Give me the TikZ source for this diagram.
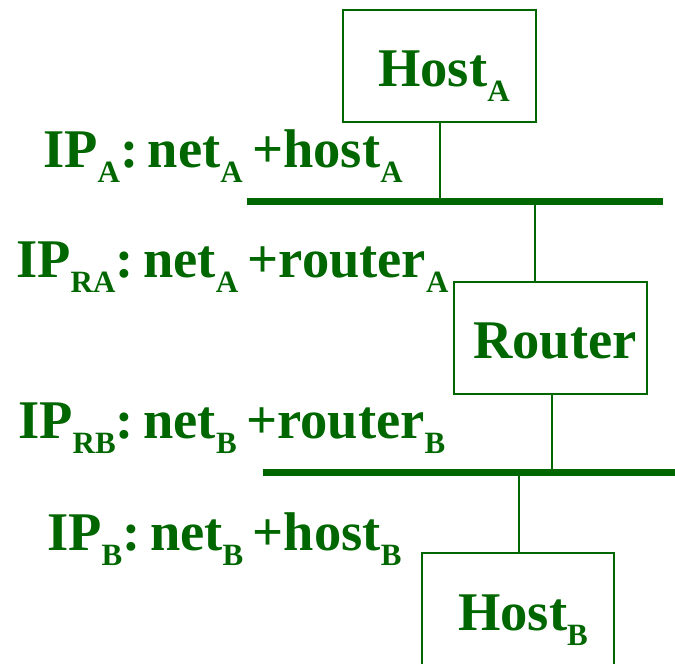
\documentclass[tikz,border=0pt]{standalone}
\usepackage{fontspec}
\setmainfont[WordSpace=0.7]{Liberation Serif}
\frenchspacing
\definecolor{netgreen}{RGB}{0,102,0}
% lowered subscript in a smaller bold face
\newcommand{\lsub}[1]{\raisebox{-15pt}{\fontsize{31}{31}\selectfont #1}}
\begin{document}
\begin{tikzpicture}[x=1pt,y=-1pt,
  every node/.style={text=netgreen,font=\fontsize{54.5}{60}\selectfont\bfseries},
  devbox/.style={draw=netgreen,line width=2pt,minimum width=193pt,minimum height=112pt,
    inner sep=0pt,text height=42pt,text depth=0pt},
  addr/.style={anchor=base west,inner sep=0pt},
  link/.style={draw=netgreen,line width=2pt},
  bus/.style={draw=netgreen,line width=7pt}]
\useasboundingbox (0,0) rectangle (675,664);

% devices (leading space pushes each name a little right of centre)
\node[devbox] (hostA) at (439.5,65.5) {\hspace*{9pt}Host\lsub{A}};
\node[devbox] (router) at (550.5,337.5) {\hspace*{9pt}Router};
\node[devbox,minimum width=192pt] (hostB) at (518,609) {\hspace*{10pt}Host\lsub{B}};

% address labels
\node[addr] (ipA) at (43,167) {IP\lsub{A}: net\lsub{A} +host\lsub{A}};
\node[addr] (ipRA) at (16,277) {IP\lsub{RA}: net\lsub{A} +router\lsub{A}};
\node[addr] (ipRB) at (18,438) {IP\lsub{RB}: net\lsub{B} +router\lsub{B}};
\node[addr] (ipB) at (47,550) {IP\lsub{B}: net\lsub{B} +host\lsub{B}};

% network buses
\coordinate (busAL) at (247,201);
\coordinate (busAR) at (663,201);
\coordinate (busBL) at (263,472);
\coordinate (busBR) at (675,472);
\draw[bus] (busAL) -- (busAR);
\draw[bus] (busBL) -- (busBR);

% taps onto the buses
\coordinate (tapA1) at (440,201);
\coordinate (tapA2) at (535,201);
\coordinate (tapB1) at (552,472);
\coordinate (tapB2) at (519,472);
\draw[link] (tapA1 |- hostA.south) -- (tapA1);
\draw[link] (tapA2) -- (tapA2 |- router.north);
\draw[link] (tapB1 |- router.south) -- (tapB1);
\draw[link] (tapB2) -- (tapB2 |- hostB.north);
\end{tikzpicture}
\end{document}
